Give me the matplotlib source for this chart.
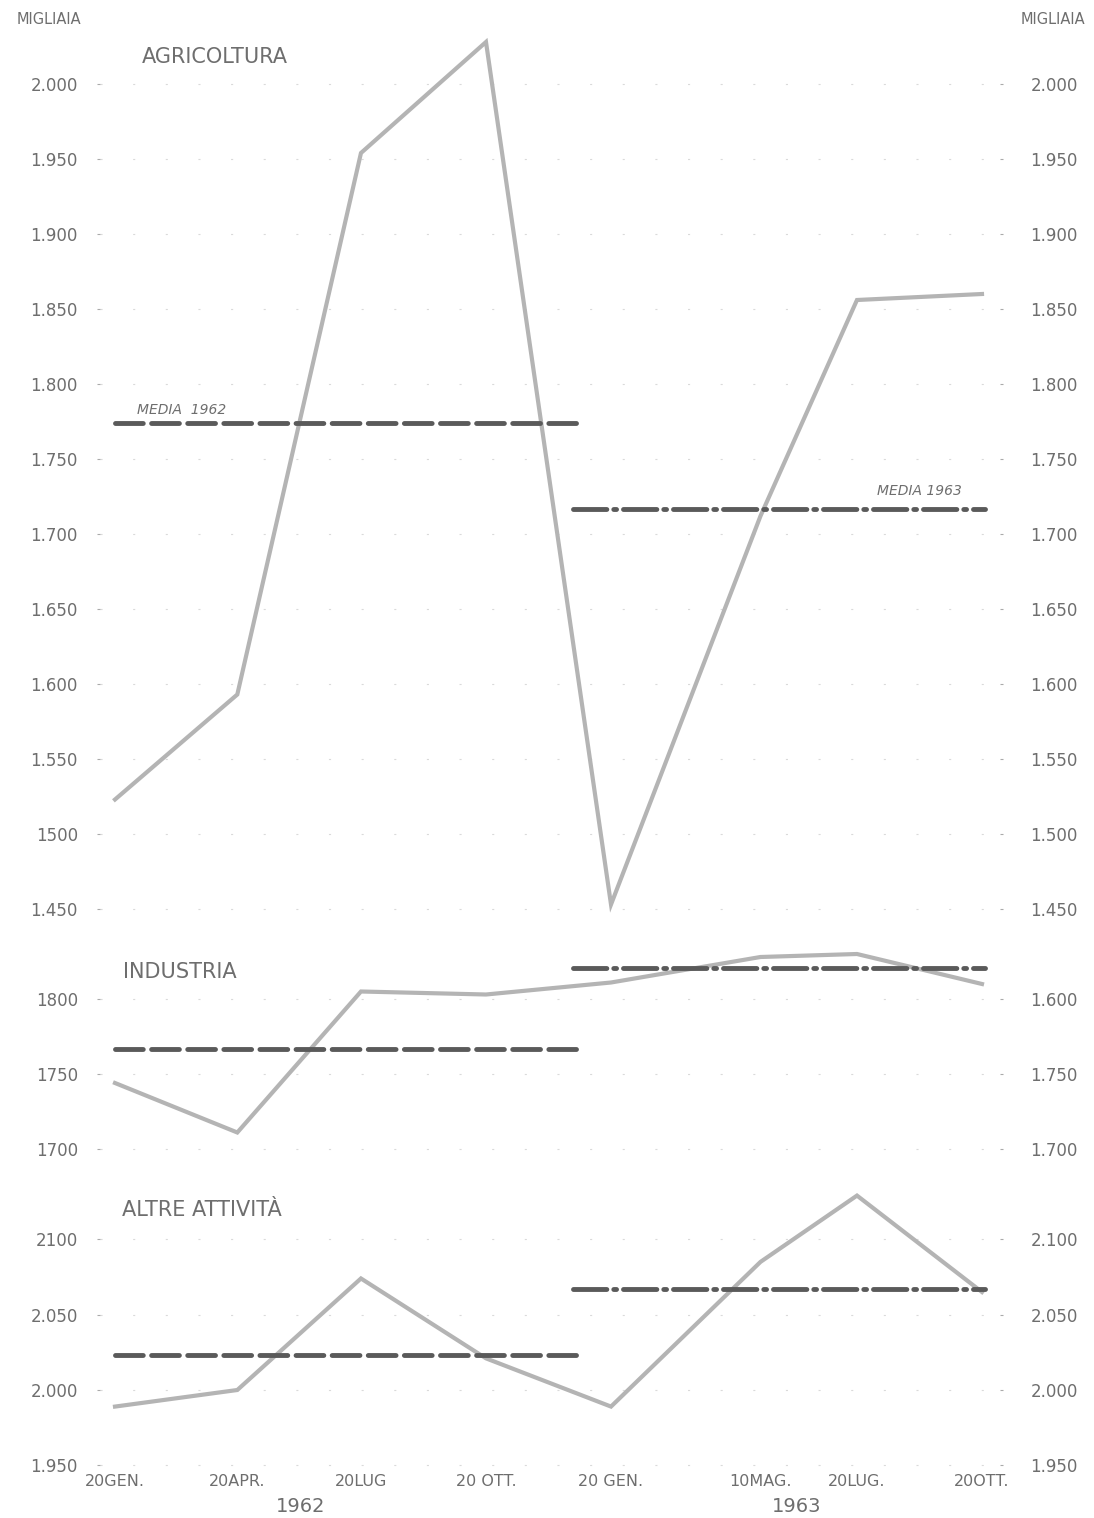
import matplotlib
matplotlib.use("Agg")
import matplotlib.pyplot as plt
import matplotlib.dates as mdates
from matplotlib.transforms import blended_transform_factory
import datetime as dt

# ---------------- data ----------------
dates = ["1962-01-20", "1962-04-20", "1962-07-20", "1962-10-20",
         "1963-01-20", "1963-05-10", "1963-07-20", "1963-10-20"]
date_labels = ["20GEN.", "20APR.", "20LUG", "20 OTT.",
               "20 GEN.", "10MAG.", "20LUG.", "20OTT."]
years = ["1962", "1963"]

agricoltura = [1523, 1593, 1954, 2028, 1453, 1712, 1856, 1860]
industria = [1744, 1711, 1805, 1803, 1811, 1828, 1830, 1810]
altre = [1989, 2000, 2074, 2021, 1989, 2085, 2129, 2065]

media_agr = [1774, 1717]
media_ind = [1767, 1821]
media_alt = [2023, 2067]
media_span_1962 = ["1962-01-20", "1962-12-25"]
media_span_1963 = ["1962-12-23", "1963-10-22"]

agr_ticks = [1450, 1500, 1550, 1600, 1650, 1700, 1750, 1800, 1850, 1900, 1950, 2000]
agr_left_labels = ["1.450", "1500", "1.550", "1.600", "1.650", "1.700", "1.750",
                   "1.800", "1.850", "1.900", "1.950", "2.000"]
agr_right_labels = ["1.450", "1.500", "1.550", "1.600", "1.650", "1.700", "1.750",
                    "1.800", "1.850", "1.900", "1.950", "2.000"]
ind_ticks = [1700, 1750, 1800]
ind_left_labels = ["1700", "1750", "1800"]
ind_right_labels = ["1.700", "1.750", "1.600"]
alt_ticks = [1950, 2000, 2050, 2100]
alt_left_labels = ["1.950", "2.000", "2.050", "2100"]
alt_right_labels = ["1.950", "2.000", "2.050", "2.100"]

titles = ["AGRICOLTURA", "INDUSTRIA", "ALTRE ATTIVITÀ"]

# ---------------- style ----------------
plt.rcParams["font.family"] = ["DejaVu Sans"]
plt.rcParams["lines.scale_dashes"] = False
TXT = "#6e6e6e"
LINE = "#b4b4b4"
MEDIA = "#5a5a5a"
GRID = "#dadada"

W, H = 1094, 1518
fig = plt.figure(figsize=(W / 100, H / 100), dpi=100)
fig.patch.set_facecolor("white")

x = [mdates.date2num(dt.date.fromisoformat(d)) for d in dates]
px_per_day = 867 / (x[-1] - x[0])
xmin = x[0] - 15 / px_per_day
xmax = xmin + 900 / px_per_day


def px_axes(top, bottom):
    return fig.add_axes([100 / W, 1 - bottom / H, 900 / W, (bottom - top) / H])


def dnum(s):
    return mdates.date2num(dt.date.fromisoformat(s))


panels = [
    (28.5, 916.5, (1445, 2037), agricoltura, media_agr, agr_ticks, agr_left_labels, agr_right_labels),
    (931.5, 1159.5, (1693, 1845), industria, media_ind, ind_ticks, ind_left_labels, ind_right_labels),
    (1179.0, 1472.9, (1945, 2140), altre, media_alt, alt_ticks, alt_left_labels, alt_right_labels),
]

axes = []
for top, bottom, ylim, series, media, ticks, llab, rlab in panels:
    ax = px_axes(top, bottom)
    ax.set_xlim(xmin, xmax)
    ax.set_ylim(*ylim)
    for s in ax.spines.values():
        s.set_visible(False)
    ax.set_yticks(ticks)
    ax.set_yticklabels(llab)
    ax.tick_params(axis="y", length=2, width=0.8, color="#aaaaaa", pad=14,
                   labelsize=12, labelcolor=TXT)
    ax.set_xticks(x)
    ax.tick_params(axis="x", length=0)
    ax.set_xticklabels([])
    for t in ticks:
        ax.axhline(t, color=GRID, lw=0.8, ls=(0, (1.5, 22)), zorder=0)

    axr = ax.twinx()
    axr.set_ylim(*ylim)
    for s in axr.spines.values():
        s.set_visible(False)
    axr.set_yticks(ticks)
    axr.set_yticklabels(rlab)
    axr.tick_params(axis="y", length=2, width=0.8, color="#aaaaaa", pad=20,
                    labelsize=12, labelcolor=TXT)

    ax.plot(x, series, color=LINE, lw=3, solid_joinstyle="miter", zorder=3)

    ax.plot([dnum(media_span_1962[0]), dnum(media_span_1962[1])], [media[0], media[0]],
            color=MEDIA, lw=3.5, dashes=(20, 6), dash_capstyle="round", zorder=4)
    ax.plot([dnum(media_span_1963[0]), dnum(media_span_1963[1])], [media[1], media[1]],
            color=MEDIA, lw=3.5, dashes=(24, 5, 2, 5), dash_capstyle="round", zorder=4)
    axes.append(ax)

ax1, ax2, ax3 = axes

# titles
fig.text(142 / W, 1 - 57 / H, titles[0], fontsize=15, color=TXT, va="center", ha="left")
fig.text(123 / W, 1 - 972 / H, titles[1], fontsize=15, color=TXT, va="center", ha="left")
fig.text(122 / W, 1 - 1210 / H, titles[2], fontsize=15, color=TXT, va="center", ha="left")

fig.text(49 / W, 1 - 20 / H, "MIGLIAIA", fontsize=10.5, color=TXT, va="center", ha="center")
fig.text(1053 / W, 1 - 20 / H, "MIGLIAIA", fontsize=10.5, color=TXT, va="center", ha="center")

fig.text(137 / W, 1 - 410 / H, "MEDIA  1962", fontsize=10, style="italic", color=TXT,
         va="center", ha="left")
fig.text(962 / W, 1 - 491 / H, "MEDIA 1963", fontsize=10, style="italic", color=TXT,
         va="center", ha="right")

# x labels
trans = blended_transform_factory(ax3.transData, fig.transFigure)
for xi, lab in zip(x, date_labels):
    ax3.text(xi, 1 - 1482 / H, lab, transform=trans, ha="center", va="center",
             fontsize=11.5, color=TXT)
ax3.text((x[0] + x[3]) / 2, 1 - 1507 / H, years[0], transform=trans, ha="center",
         va="center", fontsize=14, color=TXT)
ax3.text((x[4] + x[7]) / 2, 1 - 1507 / H, years[1], transform=trans, ha="center",
         va="center", fontsize=14, color=TXT)

fig.savefig("out.png", dpi=100, facecolor="white")
